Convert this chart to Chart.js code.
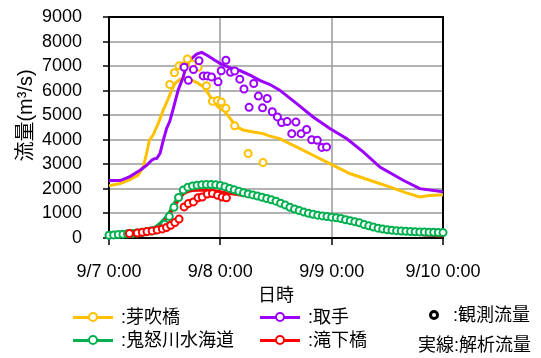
<!DOCTYPE html>
<html>
<head>
<meta charset="utf-8">
<script src="https://cdn.jsdelivr.net/npm/chart.js@4.4.1/dist/chart.umd.min.js"></script>
<style>
  html, body { margin: 0; padding: 0; background: #fff; }
  #wrap { position: relative; width: 541px; height: 358px; overflow: hidden;
          font-family: 'Liberation Sans', 'Noto Sans CJK JP', sans-serif; }
  #chartBox { position: absolute; left: 0; top: 0; width: 541px; height: 311px; }
  .lgText { position: absolute; font-size: 18px; line-height: 20px; color: #000; white-space: nowrap; }
  .lgLine { position: absolute; width: 40px; height: 3px; }
  .lgDot { position: absolute; width: 10px; height: 10px; border-radius: 50%;
           border-style: solid; border-width: 2.5px; background: #fff; box-sizing: border-box; }
</style>
</head>
<body>
<div id="wrap">
  <div id="chartBox"><canvas id="c"></canvas></div>
</div>
<script>
// Hours since 9/7 0:00 and discharge (m3/s)
const tickLabels = ['9/7 0:00', '9/8 0:00', '9/9 0:00', '9/10 0:00'];

// 芽吹橋
const mebukiCalcHours = [0,2.4,4.5,6.3,7.4,8.1,8.7,9.5,10.6,11.7,12.8,13.5,14.2,15.3,16.4,17.4,18.9,20.3,21.4,22.5,23.5,25,26.1,27.5,28.9,31.1,33.2,34.7,36.8,40.4,44,47.6,51.9,56.2,60.5,64.1,67,69.1,72];
const mebukiCalcFlow  = [2130,2220,2380,2560,2900,3440,3980,4190,4660,5210,5680,6020,6290,6460,6500,6460,6340,6160,5890,5540,5340,5140,4870,4530,4400,4320,4250,4150,4050,3710,3370,3030,2625,2350,2080,1835,1670,1730,1760];
const mebukiObsHours  = [13.1,14.1,15.1,16.0,16.9,18.0,19.2,21.0,22.3,23.4,24.2,25.2,27.1,30.0,33.2];
const mebukiObsFlow   = [6250,6730,7010,7000,7290,7080,6950,6200,5570,5600,5540,5280,4570,3440,3070];

// 取手
const torideCalcHours = [0,2.4,4.5,6.7,8.1,9.2,9.8,10.3,11,11.7,12.4,13.1,13.9,14.9,16,16.7,17.8,18.9,20,21.4,22.8,24.2,26.1,28.2,30.4,32.5,34.7,36.8,40.4,44,47.6,51.2,54.8,58.4,63.4,67,72];
const torideCalcFlow  = [2340,2340,2500,2760,2960,3170,3230,3240,3450,3980,4450,4750,5300,6020,6560,7040,7310,7490,7560,7410,7240,7080,6930,6820,6630,6420,6250,6020,5480,4930,4460,4050,3510,2890,2350,2010,1880];
const torideObsHours  = [16.2,17.1,18.2,19.4,20.3,21.2,22.1,23.5,24.2,25.2,26.2,27.1,28.2,29.1,30.2,31.2,32.2,33.1,34.1,35.2,36.3,37.2,38.4,39.4,40.3,41.4,42.6,43.7,44.9,45.9,46.9];
const torideObsFlow   = [6950,6420,6860,7220,6600,6600,6560,6360,6810,7240,6750,6800,6470,6070,5320,6290,5780,5300,5680,5140,4930,4700,4740,4250,4720,4250,4420,4000,3980,3690,3710];

// 鬼怒川水海道
const mitsukaidoCalcHours = [0,2,4,6,8,10,11,12,13,14,15,16,17,18,20,22,24,26,28,30,32,34,36,38,40,42,44,46,48,50,52,54,56,58,60,62,64,66,68,70,72];
const mitsukaidoCalcFlow  = [130,160,200,250,320,450,600,800,1050,1400,1700,1920,2040,2100,2150,2160,2100,1980,1870,1780,1700,1600,1480,1320,1170,1050,970,905,845,785,700,600,480,390,330,290,255,230,210,195,180];
const mitsukaidoObsHours  = [0,1,2,3,4,5,6,7,8,9,10,11,12,13,14,15,16,17,18,19,20,21,22,23,24,25,26,27,28,29,30,31,32,33,34,35,36,37,38,39,40,41,42,43,44,45,46,47,48,49,50,51,52,53,54,55,56,57,58,59,60,61,62,63,64,65,66,67,68,69,70,71,72];
const mitsukaidoObsFlow   = [110,125,140,155,170,185,200,225,250,280,320,380,560,880,1250,1650,1950,2070,2120,2150,2170,2175,2175,2165,2140,2090,2020,1960,1900,1845,1795,1755,1710,1660,1610,1560,1500,1420,1340,1250,1180,1115,1055,1005,965,930,900,875,850,822,795,745,705,665,620,545,495,445,400,362,335,315,300,285,272,262,254,247,240,235,230,225,220];

// 滝下橋
const takishitaCalcHours = [0,2,4,6,8,10,11,12,13,14,15,16,17,18,20,22,24,26,28,30,32,34,36,38,40,42,44,46,48,50,52,54,56,58,60,62,64,66,68,70,72];
const takishitaCalcFlow  = [100,140,180,230,290,400,520,700,950,1250,1550,1790,1890,1930,1950,1930,1880,1810,1760,1700,1640,1560,1450,1310,1170,1060,990,930,880,820,730,620,490,390,310,250,200,160,125,100,80];
const takishitaObsHours  = [4.4,6.1,7.2,8.2,9.3,10.4,11.5,12.4,13.3,14.2,15.1,16.2,17.1,18.2,19.2,20.1,21.2,22.3,23.4,24.4,25.3];
const takishitaObsFlow   = [180,205,232,260,290,330,370,425,520,630,770,1265,1400,1470,1640,1670,1790,1810,1740,1670,1635];

const COLORS = { mebuki: '#FFC000', toride: '#9B00FF', mitsukaido: '#00B050', takishita: '#FF0000' };
const GRID = '#9a9a9a';
const CLEAR = 'rgba(0,0,0,0)';
const FONT = "'Liberation Sans', 'Noto Sans CJK JP', sans-serif";

const toPoints = (hs, vs) => hs.map((h, i) => ({ x: h, y: vs[i] }));

const calcSet = (label, hs, vs, color, order) => ({
  label, data: toPoints(hs, vs), borderColor: color, backgroundColor: color,
  borderWidth: 3, pointRadius: 0, tension: 0, showLine: true, order
});
const obsSet = (label, hs, vs, color, order) => ({
  label, data: toPoints(hs, vs), borderColor: color, backgroundColor: '#ffffff',
  pointRadius: 3.5, pointBorderWidth: 2, showLine: false, clip: 8, order
});

function seg(ctx, x1, y1, x2, y2) {
  ctx.beginPath(); ctx.moveTo(x1, y1); ctx.lineTo(x2, y2); ctx.stroke();
}

// Grid, tick marks and frame, placed from the scales' own pixel mapping,
// drawn beneath the series; plus the rotated y-axis title.
const plotFrame = {
  id: 'plotFrame',
  beforeDatasetsDraw(chart) {
    const { ctx } = chart;
    const xs = chart.scales.x, ys = chart.scales.y;
    const L = xs.getPixelForValue(xs.min), R = xs.getPixelForValue(xs.max);
    const T = ys.getPixelForValue(ys.max), B = ys.getPixelForValue(ys.min);
    ctx.save();
    ctx.setLineDash([]);
    ctx.lineWidth = 1.5;
    ctx.strokeStyle = GRID;
    ys.ticks.forEach(t => {
      if (t.value <= ys.min || t.value >= ys.max) return;
      const y = Math.round(ys.getPixelForValue(t.value));
      seg(ctx, L, y, R, y);
    });
    xs.ticks.forEach(t => {
      if (t.value <= xs.min || t.value >= xs.max) return;
      const x = Math.round(xs.getPixelForValue(t.value));
      seg(ctx, x, T, x, B);
    });
    ctx.strokeStyle = '#000';
    ys.ticks.forEach(t => {
      const y = Math.round(ys.getPixelForValue(t.value));
      seg(ctx, L - 6, y, L, y);
    });
    xs.ticks.forEach(t => {
      const x = Math.round(xs.getPixelForValue(t.value));
      seg(ctx, x, B, x, B + 7);
    });
    ctx.lineWidth = 2;
    ctx.strokeRect(L, T, R - L, B - T);

    ctx.translate(26, (T + B) / 2 - 12);
    ctx.rotate(-Math.PI / 2);
    ctx.fillStyle = '#000';
    ctx.font = '20px ' + FONT;
    ctx.textAlign = 'center';
    ctx.textBaseline = 'middle';
    ctx.fillText('流量(m³/s)', 0, 0);
    ctx.restore();
  }
};

Chart.defaults.font.family = FONT;
Chart.defaults.font.size = 18;
Chart.defaults.color = '#000';

new Chart(document.getElementById('c'), {
  type: 'scatter',
  data: {
    datasets: [
      calcSet('芽吹橋', mebukiCalcHours, mebukiCalcFlow, COLORS.mebuki, 6),
      calcSet('取手', torideCalcHours, torideCalcFlow, COLORS.toride, 5),
      calcSet('鬼怒川水海道', mitsukaidoCalcHours, mitsukaidoCalcFlow, COLORS.mitsukaido, 8),
      calcSet('滝下橋', takishitaCalcHours, takishitaCalcFlow, COLORS.takishita, 7),
      obsSet('芽吹橋', mebukiObsHours, mebukiObsFlow, COLORS.mebuki, 4),
      obsSet('取手', torideObsHours, torideObsFlow, COLORS.toride, 3),
      obsSet('鬼怒川水海道', mitsukaidoObsHours, mitsukaidoObsFlow, COLORS.mitsukaido, 2),
      obsSet('滝下橋', takishitaObsHours, takishitaObsFlow, COLORS.takishita, 1)
    ]
  },
  options: {
    responsive: true,
    maintainAspectRatio: false,
    animation: false,
    layout: { padding: { left: 0, right: 98, top: 17, bottom: 0 } },
    plugins: { legend: { display: false }, tooltip: { enabled: false } },
    scales: {
      x: {
        type: 'linear', min: 0, max: 72,
        afterFit(s) { s.height = 73; s.paddingLeft = 0; s.paddingRight = 0; },
        ticks: { stepSize: 24, autoSkip: false, maxRotation: 0, padding: 16,
                 callback: v => tickLabels[v / 24] },
        grid: { color: CLEAR, lineWidth: 1.5, tickLength: 7, tickColor: CLEAR },
        border: { display: true, color: CLEAR, width: 2 },
        title: { display: true, text: '日時', padding: { top: 0, bottom: 4 } }
      },
      y: {
        min: 0, max: 9000,
        afterFit(s) { s.width = 109; s.paddingTop = 0; s.paddingBottom = 0; },
        ticks: { stepSize: 1000, autoSkip: false, padding: 21, callback: v => String(v) },
        grid: { color: CLEAR, lineWidth: 1.5, tickLength: 6, tickColor: CLEAR },
        border: { display: true, color: CLEAR, width: 2 }
      }
    }
  },
  plugins: [plotFrame]
});

// Legend beneath the plot
const wrapEl = document.getElementById('wrap');
function addEl(cls, style, text) {
  const d = document.createElement('div');
  d.className = cls;
  Object.assign(d.style, style);
  if (text) d.textContent = text;
  wrapEl.appendChild(d);
  return d;
}
const legendItems = [
  { name: ':芽吹橋', color: COLORS.mebuki, x: 73, y: 317 },
  { name: ':取手', color: COLORS.toride, x: 260, y: 317 },
  { name: ':鬼怒川水海道', color: COLORS.mitsukaido, x: 73, y: 340 },
  { name: ':滝下橋', color: COLORS.takishita, x: 260, y: 340 }
];
legendItems.forEach(it => {
  addEl('lgLine', { left: it.x + 'px', top: (it.y - 1.5) + 'px', background: it.color });
  addEl('lgDot', { left: (it.x + 15) + 'px', top: (it.y - 5) + 'px', borderColor: it.color });
  addEl('lgText', { left: (it.x + 48) + 'px', top: (it.y - 10) + 'px' }, it.name);
});
addEl('lgDot', { left: '429px', top: '310px', borderColor: '#000', borderWidth: '3px' });
addEl('lgText', { left: '453px', top: '305px' }, ':観測流量');
addEl('lgText', { left: '418px', top: '335px' }, '実線:解析流量');
</script>
</body>
</html>
